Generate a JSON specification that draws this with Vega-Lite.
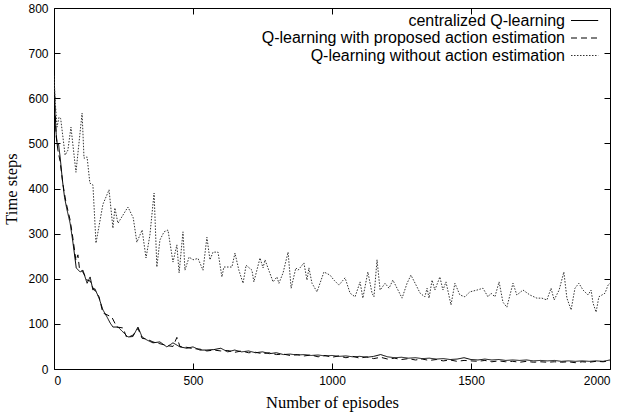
{
  "$schema": "https://vega.github.io/schema/vega-lite/v6.json",
  "autosize": "none",
  "width": 556,
  "height": 361,
  "padding": {"left": 54, "top": 8, "right": 13, "bottom": 45},
  "background": "white",
  "config": {
    "view": {"stroke": "black", "strokeWidth": 1},
    "axis": {"grid": false, "domain": false, "tickColor": "black", "tickSize": -6, "tickWidth": 1, "labelFont": "Liberation Sans", "labelFontSize": 12, "labelColor": "black", "titleFont": "Liberation Serif", "titleFontSize": 16.5, "titleFontWeight": "normal", "titleColor": "black"}
  },
  "datasets": {
    "pts": [
      {"s": "centralized Q-learning", "ep": 0, "v": 680}, {"s": "centralized Q-learning", "ep": 4, "v": 560}, {"s": "centralized Q-learning", "ep": 8, "v": 520}, {"s": "centralized Q-learning", "ep": 12, "v": 495}, {"s": "centralized Q-learning", "ep": 16, "v": 500}, {"s": "centralized Q-learning", "ep": 22, "v": 470}, {"s": "centralized Q-learning", "ep": 30, "v": 420}, {"s": "centralized Q-learning", "ep": 38, "v": 380}, {"s": "centralized Q-learning", "ep": 46, "v": 355}, {"s": "centralized Q-learning", "ep": 58, "v": 323}, {"s": "centralized Q-learning", "ep": 68, "v": 281}, {"s": "centralized Q-learning", "ep": 80, "v": 224}, {"s": "centralized Q-learning", "ep": 94, "v": 215}, {"s": "centralized Q-learning", "ep": 104, "v": 219}, {"s": "centralized Q-learning", "ep": 119, "v": 190}, {"s": "centralized Q-learning", "ep": 130, "v": 204}, {"s": "centralized Q-learning", "ep": 140, "v": 175}, {"s": "centralized Q-learning", "ep": 147, "v": 178}, {"s": "centralized Q-learning", "ep": 162, "v": 157}, {"s": "centralized Q-learning", "ep": 176, "v": 131}, {"s": "centralized Q-learning", "ep": 191, "v": 115}, {"s": "centralized Q-learning", "ep": 202, "v": 102}, {"s": "centralized Q-learning", "ep": 212, "v": 93}, {"s": "centralized Q-learning", "ep": 230, "v": 93}, {"s": "centralized Q-learning", "ep": 248, "v": 82}, {"s": "centralized Q-learning", "ep": 266, "v": 71}, {"s": "centralized Q-learning", "ep": 284, "v": 72}, {"s": "centralized Q-learning", "ep": 302, "v": 93}, {"s": "centralized Q-learning", "ep": 317, "v": 71}, {"s": "centralized Q-learning", "ep": 335, "v": 64}, {"s": "centralized Q-learning", "ep": 356, "v": 58}, {"s": "centralized Q-learning", "ep": 381, "v": 60}, {"s": "centralized Q-learning", "ep": 406, "v": 49}, {"s": "centralized Q-learning", "ep": 428, "v": 58}, {"s": "centralized Q-learning", "ep": 453, "v": 49}, {"s": "centralized Q-learning", "ep": 478, "v": 46}, {"s": "centralized Q-learning", "ep": 500, "v": 49}, {"s": "centralized Q-learning", "ep": 525, "v": 42}, {"s": "centralized Q-learning", "ep": 550, "v": 42}, {"s": "centralized Q-learning", "ep": 575, "v": 43}, {"s": "centralized Q-learning", "ep": 600, "v": 46}, {"s": "centralized Q-learning", "ep": 625, "v": 38}, {"s": "centralized Q-learning", "ep": 650, "v": 42}, {"s": "centralized Q-learning", "ep": 675, "v": 38}, {"s": "centralized Q-learning", "ep": 700, "v": 40}, {"s": "centralized Q-learning", "ep": 725, "v": 36}, {"s": "centralized Q-learning", "ep": 750, "v": 38}, {"s": "centralized Q-learning", "ep": 775, "v": 34}, {"s": "centralized Q-learning", "ep": 800, "v": 36}, {"s": "centralized Q-learning", "ep": 825, "v": 32}, {"s": "centralized Q-learning", "ep": 850, "v": 33}, {"s": "centralized Q-learning", "ep": 875, "v": 31}, {"s": "centralized Q-learning", "ep": 900, "v": 32}, {"s": "centralized Q-learning", "ep": 925, "v": 30}, {"s": "centralized Q-learning", "ep": 950, "v": 31}, {"s": "centralized Q-learning", "ep": 975, "v": 29}, {"s": "centralized Q-learning", "ep": 1000, "v": 30}, {"s": "centralized Q-learning", "ep": 1025, "v": 28}, {"s": "centralized Q-learning", "ep": 1050, "v": 29}, {"s": "centralized Q-learning", "ep": 1075, "v": 27}, {"s": "centralized Q-learning", "ep": 1100, "v": 28}, {"s": "centralized Q-learning", "ep": 1125, "v": 26}, {"s": "centralized Q-learning", "ep": 1150, "v": 28}, {"s": "centralized Q-learning", "ep": 1175, "v": 32}, {"s": "centralized Q-learning", "ep": 1200, "v": 27}, {"s": "centralized Q-learning", "ep": 1225, "v": 25}, {"s": "centralized Q-learning", "ep": 1250, "v": 26}, {"s": "centralized Q-learning", "ep": 1275, "v": 24}, {"s": "centralized Q-learning", "ep": 1300, "v": 25}, {"s": "centralized Q-learning", "ep": 1325, "v": 23}, {"s": "centralized Q-learning", "ep": 1350, "v": 24}, {"s": "centralized Q-learning", "ep": 1375, "v": 22}, {"s": "centralized Q-learning", "ep": 1400, "v": 23}, {"s": "centralized Q-learning", "ep": 1425, "v": 21}, {"s": "centralized Q-learning", "ep": 1450, "v": 22}, {"s": "centralized Q-learning", "ep": 1475, "v": 25}, {"s": "centralized Q-learning", "ep": 1500, "v": 21}, {"s": "centralized Q-learning", "ep": 1525, "v": 20}, {"s": "centralized Q-learning", "ep": 1550, "v": 22}, {"s": "centralized Q-learning", "ep": 1575, "v": 20}, {"s": "centralized Q-learning", "ep": 1600, "v": 21}, {"s": "centralized Q-learning", "ep": 1625, "v": 19}, {"s": "centralized Q-learning", "ep": 1650, "v": 20}, {"s": "centralized Q-learning", "ep": 1675, "v": 19}, {"s": "centralized Q-learning", "ep": 1700, "v": 20}, {"s": "centralized Q-learning", "ep": 1725, "v": 18}, {"s": "centralized Q-learning", "ep": 1750, "v": 19}, {"s": "centralized Q-learning", "ep": 1775, "v": 18}, {"s": "centralized Q-learning", "ep": 1800, "v": 19}, {"s": "centralized Q-learning", "ep": 1825, "v": 17}, {"s": "centralized Q-learning", "ep": 1850, "v": 18}, {"s": "centralized Q-learning", "ep": 1875, "v": 17}, {"s": "centralized Q-learning", "ep": 1900, "v": 18}, {"s": "centralized Q-learning", "ep": 1925, "v": 17}, {"s": "centralized Q-learning", "ep": 1950, "v": 18}, {"s": "centralized Q-learning", "ep": 1975, "v": 17}, {"s": "centralized Q-learning", "ep": 2000, "v": 20},

      {"s": "Q-learning with proposed action estimation", "ep": 0, "v": 650}, {"s": "Q-learning with proposed action estimation", "ep": 4, "v": 570}, {"s": "Q-learning with proposed action estimation", "ep": 8, "v": 515}, {"s": "Q-learning with proposed action estimation", "ep": 14, "v": 485}, {"s": "Q-learning with proposed action estimation", "ep": 22, "v": 460}, {"s": "Q-learning with proposed action estimation", "ep": 32, "v": 410}, {"s": "Q-learning with proposed action estimation", "ep": 43, "v": 370}, {"s": "Q-learning with proposed action estimation", "ep": 58, "v": 330}, {"s": "Q-learning with proposed action estimation", "ep": 68, "v": 290}, {"s": "Q-learning with proposed action estimation", "ep": 79, "v": 240}, {"s": "Q-learning with proposed action estimation", "ep": 86, "v": 253}, {"s": "Q-learning with proposed action estimation", "ep": 92, "v": 220}, {"s": "Q-learning with proposed action estimation", "ep": 104, "v": 215}, {"s": "Q-learning with proposed action estimation", "ep": 119, "v": 197}, {"s": "Q-learning with proposed action estimation", "ep": 130, "v": 195}, {"s": "Q-learning with proposed action estimation", "ep": 140, "v": 180}, {"s": "Q-learning with proposed action estimation", "ep": 162, "v": 160}, {"s": "Q-learning with proposed action estimation", "ep": 176, "v": 124}, {"s": "Q-learning with proposed action estimation", "ep": 191, "v": 120}, {"s": "Q-learning with proposed action estimation", "ep": 208, "v": 115}, {"s": "Q-learning with proposed action estimation", "ep": 226, "v": 93}, {"s": "Q-learning with proposed action estimation", "ep": 248, "v": 91}, {"s": "Q-learning with proposed action estimation", "ep": 262, "v": 69}, {"s": "Q-learning with proposed action estimation", "ep": 284, "v": 75}, {"s": "Q-learning with proposed action estimation", "ep": 302, "v": 90}, {"s": "Q-learning with proposed action estimation", "ep": 317, "v": 68}, {"s": "Q-learning with proposed action estimation", "ep": 335, "v": 66}, {"s": "Q-learning with proposed action estimation", "ep": 356, "v": 60}, {"s": "Q-learning with proposed action estimation", "ep": 381, "v": 56}, {"s": "Q-learning with proposed action estimation", "ep": 406, "v": 52}, {"s": "Q-learning with proposed action estimation", "ep": 428, "v": 50}, {"s": "Q-learning with proposed action estimation", "ep": 442, "v": 70}, {"s": "Q-learning with proposed action estimation", "ep": 453, "v": 50}, {"s": "Q-learning with proposed action estimation", "ep": 478, "v": 48}, {"s": "Q-learning with proposed action estimation", "ep": 500, "v": 45}, {"s": "Q-learning with proposed action estimation", "ep": 525, "v": 44}, {"s": "Q-learning with proposed action estimation", "ep": 550, "v": 40}, {"s": "Q-learning with proposed action estimation", "ep": 575, "v": 42}, {"s": "Q-learning with proposed action estimation", "ep": 600, "v": 40}, {"s": "Q-learning with proposed action estimation", "ep": 625, "v": 41}, {"s": "Q-learning with proposed action estimation", "ep": 650, "v": 37}, {"s": "Q-learning with proposed action estimation", "ep": 675, "v": 40}, {"s": "Q-learning with proposed action estimation", "ep": 700, "v": 36}, {"s": "Q-learning with proposed action estimation", "ep": 725, "v": 37}, {"s": "Q-learning with proposed action estimation", "ep": 750, "v": 34}, {"s": "Q-learning with proposed action estimation", "ep": 775, "v": 36}, {"s": "Q-learning with proposed action estimation", "ep": 800, "v": 32}, {"s": "Q-learning with proposed action estimation", "ep": 825, "v": 33}, {"s": "Q-learning with proposed action estimation", "ep": 850, "v": 30}, {"s": "Q-learning with proposed action estimation", "ep": 875, "v": 32}, {"s": "Q-learning with proposed action estimation", "ep": 900, "v": 29}, {"s": "Q-learning with proposed action estimation", "ep": 925, "v": 31}, {"s": "Q-learning with proposed action estimation", "ep": 950, "v": 27}, {"s": "Q-learning with proposed action estimation", "ep": 975, "v": 30}, {"s": "Q-learning with proposed action estimation", "ep": 1000, "v": 26}, {"s": "Q-learning with proposed action estimation", "ep": 1025, "v": 29}, {"s": "Q-learning with proposed action estimation", "ep": 1050, "v": 25}, {"s": "Q-learning with proposed action estimation", "ep": 1075, "v": 28}, {"s": "Q-learning with proposed action estimation", "ep": 1100, "v": 24}, {"s": "Q-learning with proposed action estimation", "ep": 1125, "v": 27}, {"s": "Q-learning with proposed action estimation", "ep": 1150, "v": 23}, {"s": "Q-learning with proposed action estimation", "ep": 1175, "v": 26}, {"s": "Q-learning with proposed action estimation", "ep": 1200, "v": 22}, {"s": "Q-learning with proposed action estimation", "ep": 1225, "v": 24}, {"s": "Q-learning with proposed action estimation", "ep": 1250, "v": 21}, {"s": "Q-learning with proposed action estimation", "ep": 1275, "v": 23}, {"s": "Q-learning with proposed action estimation", "ep": 1300, "v": 20}, {"s": "Q-learning with proposed action estimation", "ep": 1325, "v": 22}, {"s": "Q-learning with proposed action estimation", "ep": 1350, "v": 19}, {"s": "Q-learning with proposed action estimation", "ep": 1375, "v": 21}, {"s": "Q-learning with proposed action estimation", "ep": 1400, "v": 18}, {"s": "Q-learning with proposed action estimation", "ep": 1425, "v": 20}, {"s": "Q-learning with proposed action estimation", "ep": 1450, "v": 17}, {"s": "Q-learning with proposed action estimation", "ep": 1475, "v": 19}, {"s": "Q-learning with proposed action estimation", "ep": 1500, "v": 18}, {"s": "Q-learning with proposed action estimation", "ep": 1525, "v": 17}, {"s": "Q-learning with proposed action estimation", "ep": 1550, "v": 19}, {"s": "Q-learning with proposed action estimation", "ep": 1575, "v": 16}, {"s": "Q-learning with proposed action estimation", "ep": 1600, "v": 18}, {"s": "Q-learning with proposed action estimation", "ep": 1625, "v": 16}, {"s": "Q-learning with proposed action estimation", "ep": 1650, "v": 17}, {"s": "Q-learning with proposed action estimation", "ep": 1675, "v": 15}, {"s": "Q-learning with proposed action estimation", "ep": 1700, "v": 17}, {"s": "Q-learning with proposed action estimation", "ep": 1725, "v": 15}, {"s": "Q-learning with proposed action estimation", "ep": 1750, "v": 16}, {"s": "Q-learning with proposed action estimation", "ep": 1775, "v": 15}, {"s": "Q-learning with proposed action estimation", "ep": 1800, "v": 16}, {"s": "Q-learning with proposed action estimation", "ep": 1825, "v": 15}, {"s": "Q-learning with proposed action estimation", "ep": 1850, "v": 16}, {"s": "Q-learning with proposed action estimation", "ep": 1875, "v": 14}, {"s": "Q-learning with proposed action estimation", "ep": 1900, "v": 16}, {"s": "Q-learning with proposed action estimation", "ep": 1925, "v": 15}, {"s": "Q-learning with proposed action estimation", "ep": 1950, "v": 17}, {"s": "Q-learning with proposed action estimation", "ep": 1975, "v": 16}, {"s": "Q-learning with proposed action estimation", "ep": 2000, "v": 18},

      {"s": "Q-learning without action estimation", "ep": 0, "v": 650}, {"s": "Q-learning without action estimation", "ep": 4, "v": 596}, {"s": "Q-learning without action estimation", "ep": 11, "v": 536}, {"s": "Q-learning without action estimation", "ep": 18, "v": 558}, {"s": "Q-learning without action estimation", "ep": 24, "v": 555}, {"s": "Q-learning without action estimation", "ep": 40, "v": 474}, {"s": "Q-learning without action estimation", "ep": 50, "v": 485}, {"s": "Q-learning without action estimation", "ep": 61, "v": 536}, {"s": "Q-learning without action estimation", "ep": 79, "v": 436}, {"s": "Q-learning without action estimation", "ep": 101, "v": 567}, {"s": "Q-learning without action estimation", "ep": 108, "v": 467}, {"s": "Q-learning without action estimation", "ep": 119, "v": 470}, {"s": "Q-learning without action estimation", "ep": 129, "v": 412}, {"s": "Q-learning without action estimation", "ep": 140, "v": 408}, {"s": "Q-learning without action estimation", "ep": 151, "v": 279}, {"s": "Q-learning without action estimation", "ep": 176, "v": 365}, {"s": "Q-learning without action estimation", "ep": 198, "v": 397}, {"s": "Q-learning without action estimation", "ep": 212, "v": 312}, {"s": "Q-learning without action estimation", "ep": 219, "v": 357}, {"s": "Q-learning without action estimation", "ep": 230, "v": 323}, {"s": "Q-learning without action estimation", "ep": 266, "v": 359}, {"s": "Q-learning without action estimation", "ep": 285, "v": 335}, {"s": "Q-learning without action estimation", "ep": 298, "v": 281}, {"s": "Q-learning without action estimation", "ep": 317, "v": 308}, {"s": "Q-learning without action estimation", "ep": 331, "v": 246}, {"s": "Q-learning without action estimation", "ep": 345, "v": 297}, {"s": "Q-learning without action estimation", "ep": 360, "v": 390}, {"s": "Q-learning without action estimation", "ep": 370, "v": 226}, {"s": "Q-learning without action estimation", "ep": 381, "v": 286}, {"s": "Q-learning without action estimation", "ep": 396, "v": 304}, {"s": "Q-learning without action estimation", "ep": 410, "v": 308}, {"s": "Q-learning without action estimation", "ep": 428, "v": 237}, {"s": "Q-learning without action estimation", "ep": 442, "v": 275}, {"s": "Q-learning without action estimation", "ep": 450, "v": 213}, {"s": "Q-learning without action estimation", "ep": 464, "v": 304}, {"s": "Q-learning without action estimation", "ep": 471, "v": 219}, {"s": "Q-learning without action estimation", "ep": 486, "v": 248}, {"s": "Q-learning without action estimation", "ep": 500, "v": 242}, {"s": "Q-learning without action estimation", "ep": 518, "v": 245}, {"s": "Q-learning without action estimation", "ep": 536, "v": 219}, {"s": "Q-learning without action estimation", "ep": 550, "v": 292}, {"s": "Q-learning without action estimation", "ep": 561, "v": 242}, {"s": "Q-learning without action estimation", "ep": 572, "v": 259}, {"s": "Q-learning without action estimation", "ep": 590, "v": 259}, {"s": "Q-learning without action estimation", "ep": 604, "v": 204}, {"s": "Q-learning without action estimation", "ep": 611, "v": 226}, {"s": "Q-learning without action estimation", "ep": 640, "v": 226}, {"s": "Q-learning without action estimation", "ep": 651, "v": 257}, {"s": "Q-learning without action estimation", "ep": 665, "v": 219}, {"s": "Q-learning without action estimation", "ep": 680, "v": 190}, {"s": "Q-learning without action estimation", "ep": 691, "v": 230}, {"s": "Q-learning without action estimation", "ep": 712, "v": 219}, {"s": "Q-learning without action estimation", "ep": 719, "v": 193}, {"s": "Q-learning without action estimation", "ep": 741, "v": 246}, {"s": "Q-learning without action estimation", "ep": 752, "v": 224}, {"s": "Q-learning without action estimation", "ep": 759, "v": 242}, {"s": "Q-learning without action estimation", "ep": 788, "v": 193}, {"s": "Q-learning without action estimation", "ep": 802, "v": 204}, {"s": "Q-learning without action estimation", "ep": 809, "v": 190}, {"s": "Q-learning without action estimation", "ep": 824, "v": 213}, {"s": "Q-learning without action estimation", "ep": 842, "v": 259}, {"s": "Q-learning without action estimation", "ep": 853, "v": 179}, {"s": "Q-learning without action estimation", "ep": 870, "v": 224}, {"s": "Q-learning without action estimation", "ep": 878, "v": 219}, {"s": "Q-learning without action estimation", "ep": 899, "v": 235}, {"s": "Q-learning without action estimation", "ep": 910, "v": 197}, {"s": "Q-learning without action estimation", "ep": 917, "v": 224}, {"s": "Q-learning without action estimation", "ep": 928, "v": 190}, {"s": "Q-learning without action estimation", "ep": 946, "v": 171}, {"s": "Q-learning without action estimation", "ep": 971, "v": 215}, {"s": "Q-learning without action estimation", "ep": 993, "v": 208}, {"s": "Q-learning without action estimation", "ep": 1007, "v": 197}, {"s": "Q-learning without action estimation", "ep": 1025, "v": 186}, {"s": "Q-learning without action estimation", "ep": 1047, "v": 202}, {"s": "Q-learning without action estimation", "ep": 1065, "v": 168}, {"s": "Q-learning without action estimation", "ep": 1083, "v": 160}, {"s": "Q-learning without action estimation", "ep": 1101, "v": 193}, {"s": "Q-learning without action estimation", "ep": 1111, "v": 157}, {"s": "Q-learning without action estimation", "ep": 1129, "v": 215}, {"s": "Q-learning without action estimation", "ep": 1144, "v": 168}, {"s": "Q-learning without action estimation", "ep": 1151, "v": 160}, {"s": "Q-learning without action estimation", "ep": 1162, "v": 242}, {"s": "Q-learning without action estimation", "ep": 1173, "v": 175}, {"s": "Q-learning without action estimation", "ep": 1191, "v": 190}, {"s": "Q-learning without action estimation", "ep": 1205, "v": 179}, {"s": "Q-learning without action estimation", "ep": 1219, "v": 197}, {"s": "Q-learning without action estimation", "ep": 1234, "v": 179}, {"s": "Q-learning without action estimation", "ep": 1252, "v": 157}, {"s": "Q-learning without action estimation", "ep": 1270, "v": 190}, {"s": "Q-learning without action estimation", "ep": 1284, "v": 208}, {"s": "Q-learning without action estimation", "ep": 1299, "v": 190}, {"s": "Q-learning without action estimation", "ep": 1317, "v": 168}, {"s": "Q-learning without action estimation", "ep": 1334, "v": 160}, {"s": "Q-learning without action estimation", "ep": 1342, "v": 179}, {"s": "Q-learning without action estimation", "ep": 1349, "v": 157}, {"s": "Q-learning without action estimation", "ep": 1360, "v": 197}, {"s": "Q-learning without action estimation", "ep": 1370, "v": 175}, {"s": "Q-learning without action estimation", "ep": 1388, "v": 204}, {"s": "Q-learning without action estimation", "ep": 1399, "v": 175}, {"s": "Q-learning without action estimation", "ep": 1410, "v": 193}, {"s": "Q-learning without action estimation", "ep": 1428, "v": 142}, {"s": "Q-learning without action estimation", "ep": 1442, "v": 190}, {"s": "Q-learning without action estimation", "ep": 1460, "v": 164}, {"s": "Q-learning without action estimation", "ep": 1478, "v": 160}, {"s": "Q-learning without action estimation", "ep": 1496, "v": 171}, {"s": "Q-learning without action estimation", "ep": 1522, "v": 175}, {"s": "Q-learning without action estimation", "ep": 1543, "v": 179}, {"s": "Q-learning without action estimation", "ep": 1561, "v": 160}, {"s": "Q-learning without action estimation", "ep": 1572, "v": 168}, {"s": "Q-learning without action estimation", "ep": 1586, "v": 160}, {"s": "Q-learning without action estimation", "ep": 1601, "v": 193}, {"s": "Q-learning without action estimation", "ep": 1615, "v": 148}, {"s": "Q-learning without action estimation", "ep": 1629, "v": 137}, {"s": "Q-learning without action estimation", "ep": 1651, "v": 190}, {"s": "Q-learning without action estimation", "ep": 1665, "v": 164}, {"s": "Q-learning without action estimation", "ep": 1687, "v": 175}, {"s": "Q-learning without action estimation", "ep": 1712, "v": 164}, {"s": "Q-learning without action estimation", "ep": 1737, "v": 157}, {"s": "Q-learning without action estimation", "ep": 1755, "v": 157}, {"s": "Q-learning without action estimation", "ep": 1773, "v": 153}, {"s": "Q-learning without action estimation", "ep": 1788, "v": 179}, {"s": "Q-learning without action estimation", "ep": 1799, "v": 153}, {"s": "Q-learning without action estimation", "ep": 1817, "v": 175}, {"s": "Q-learning without action estimation", "ep": 1834, "v": 215}, {"s": "Q-learning without action estimation", "ep": 1845, "v": 157}, {"s": "Q-learning without action estimation", "ep": 1860, "v": 131}, {"s": "Q-learning without action estimation", "ep": 1874, "v": 179}, {"s": "Q-learning without action estimation", "ep": 1888, "v": 190}, {"s": "Q-learning without action estimation", "ep": 1903, "v": 175}, {"s": "Q-learning without action estimation", "ep": 1921, "v": 164}, {"s": "Q-learning without action estimation", "ep": 1932, "v": 175}, {"s": "Q-learning without action estimation", "ep": 1939, "v": 146}, {"s": "Q-learning without action estimation", "ep": 1950, "v": 126}, {"s": "Q-learning without action estimation", "ep": 1960, "v": 160}, {"s": "Q-learning without action estimation", "ep": 1982, "v": 168}, {"s": "Q-learning without action estimation", "ep": 1993, "v": 186}, {"s": "Q-learning without action estimation", "ep": 2000, "v": 190}
    ]
  },
  "data": {"name": "pts"},
  "layer": [
    {
      "mark": {"type": "line", "strokeWidth": 1, "clip": true},
      "encoding": {
        "x": {"field": "ep", "type": "quantitative", "scale": {"domain": [0, 2000], "nice": false}, "axis": {"title": "Number of episodes", "values": [0, 500, 1000, 1500, 2000], "format": "d", "labelPadding": 12, "titlePadding": 8}},
        "y": {"field": "v", "type": "quantitative", "scale": {"domain": [0, 800], "nice": false}, "axis": {"title": "Time steps", "values": [0, 100, 200, 300, 400, 500, 600, 700, 800], "labelPadding": 12, "titlePadding": 8}},
        "color": {"field": "s", "type": "nominal", "sort": ["centralized Q-learning", "Q-learning with proposed action estimation", "Q-learning without action estimation"], "scale": {"domain": ["centralized Q-learning", "Q-learning with proposed action estimation", "Q-learning without action estimation"], "range": ["black", "black", "#333333"]}, "legend": {"orient": "none", "legendX": 521.6, "legendY": 3.5, "title": null, "symbolType": "M-1.7,0H1.7", "symbolSize": 256, "symbolStrokeWidth": 1.2, "symbolFillColor": "transparent", "labelAlign": "right", "labelOffset": -28.6, "labelFont": "Liberation Sans", "labelFontSize": 16, "labelColor": "black", "labelLimit": 0, "rowPadding": 0.5, "padding": 0}},
        "strokeDash": {"field": "s", "type": "nominal", "sort": ["centralized Q-learning", "Q-learning with proposed action estimation", "Q-learning without action estimation"], "scale": {"domain": ["centralized Q-learning", "Q-learning with proposed action estimation", "Q-learning without action estimation"], "range": [[1, 0], [6, 4], [1.5, 1.5]]}}
      }
    },
    {
      "mark": {"type": "rule", "opacity": 0},
      "encoding": {
        "x": {"field": "ep", "type": "quantitative", "axis": {"orient": "top", "labels": false, "title": null, "values": [0, 500, 1000, 1500, 2000]}},
        "y": {"field": "v", "type": "quantitative", "axis": {"orient": "right", "labels": false, "title": null, "values": [0, 100, 200, 300, 400, 500, 600, 700, 800]}}
      }
    }
  ],
  "resolve": {"axis": {"x": "independent", "y": "independent"}}
}
